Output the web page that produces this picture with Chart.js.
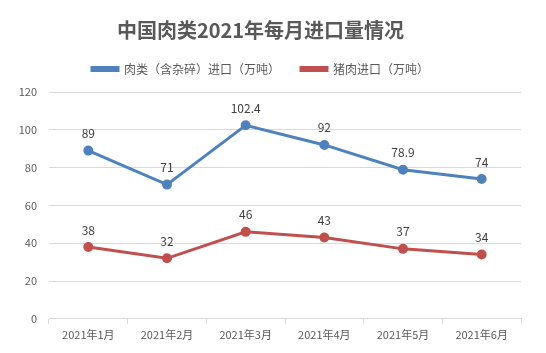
<!DOCTYPE html>
<html lang="zh"><head>
<meta charset="utf-8">
<title>中国肉类2021年每月进口量情况</title>
<style type="text/css">
html,body { margin:0; padding:0; background:#ffffff; }
#box { width:546px; height:353px; }
</style>
<script src="https://cdn.jsdelivr.net/npm/chart.js@4"></script>
<script>
labels=['2021年1月','2021年2月','2021年3月','2021年4月','2021年5月','2021年6月'];
meatName='肉类（含杂碎）进口（万吨）';
meatData=[89,71,102.4,92,78.9,74];
porkName='猪肉进口（万吨）';
porkData=[38,32,46,43,37,34];
yTicks=[0,20,40,60,80,100,120];

font="'Noto Sans CJK SC','Microsoft YaHei',sans-serif";

// values above each point
valueLabels={id:'valueLabels',afterDatasetsDraw(chart) {
  ctx=chart.ctx; ctx.save();
  ctx.font='12px '+font; ctx.fillStyle='#404040';
  ctx.textAlign='center'; ctx.textBaseline='middle';
  chart.data.datasets.forEach(function(ds,i) {
    chart.getDatasetMeta(i).data.forEach(function(pt,j) {
      ctx.fillText(String(ds.data[j]),pt.x,pt.y-17); }); });
  ctx.restore(); }};

// a bit more room under the legend
legendGap={id:'legendGap',afterInit(chart) {
  fit=chart.legend.fit;
  chart.legend.fit=function(){ fit.call(this); this.height+=7; }; }};

function initChart() {
  Chart.defaults.font.family=font;
  Chart.defaults.color='#595959';
  new Chart(document.getElementById('myChart'),{type:'line',
    data:{labels:labels,datasets:[{
      label:meatName,data:meatData,
      borderColor:'#4f81bd',backgroundColor:'#4f81bd',borderWidth:3,
      pointRadius:3.5,pointHoverRadius:3.5,tension:0},{
      label:porkName,data:porkData,
      borderColor:'#c0504d',backgroundColor:'#c0504d',borderWidth:3,
      pointRadius:3.5,pointHoverRadius:3.5,tension:0}]},
    options:{responsive:false,animation:false,
      layout:{padding:{left:0,right:25,top:18,bottom:8}},
      scales:{
        x:{offset:true,
          grid:{display:true,drawOnChartArea:false,color:'#d9d9d9',tickLength:5,offset:true},
          border:{color:'#d9d9d9'},
          ticks:{font:{size:11},color:'#595959',maxRotation:0,padding:4}},
        y:{min:0,max:120,
          afterBuildTicks:function(s){s.ticks=yTicks.map(function(v){return {value:v};});},
          afterFit:function(s){s.width=49;},
          grid:{color:'#d9d9d9',drawTicks:false},
          border:{display:false},
          ticks:{font:{size:11},color:'#595959',padding:12}}},
      plugins:{
        title:{display:true,text:'中国肉类2021年每月进口量情况',color:'#595959',
          font:{size:20,weight:'bold'},padding:{top:0,bottom:0}},
        legend:{labels:{boxWidth:26,boxHeight:3,color:'#595959',font:{size:12},padding:21}},
        tooltip:{enabled:false}}},
    plugins:[valueLabels,legendGap]}); }
</script></head>
<body onload="initChart();">
<div id="box"><canvas id="myChart" width="546" height="353"></canvas></div>
</body></html>
